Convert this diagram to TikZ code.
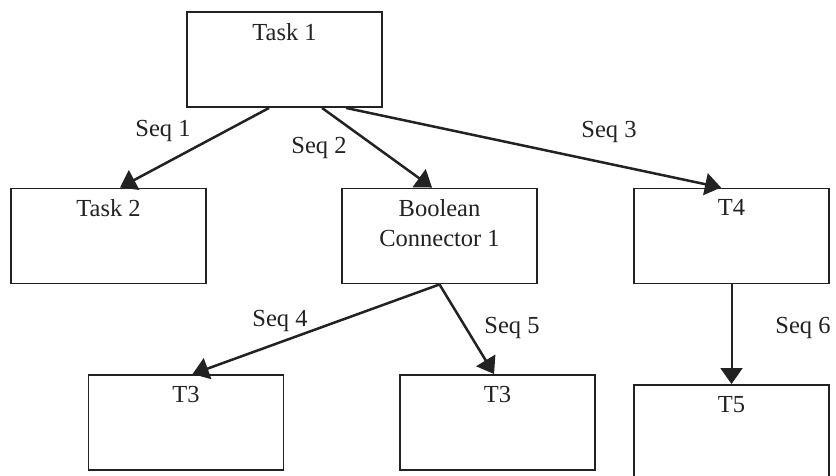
\documentclass[tikz,border=0pt]{standalone}
\usepackage{fontspec}
\setmainfont{Liberation Serif}
\usetikzlibrary{arrows.meta}
\definecolor{ink}{HTML}{222222}
\begin{document}
\begin{tikzpicture}[x=1pt,y=-1pt,
  every node/.style={font=\fontsize{24.5}{30}\selectfont, text=ink},
  box/.style={draw=ink, line width=1.9pt, rectangle, minimum width=195pt, minimum height=95pt, inner sep=0pt},
  boxtext/.style={anchor=north, inner sep=0pt, yshift=-12pt, align=center},
  seq/.style={draw=ink, line width=2.5pt, -{Triangle[length=16pt,width=22pt]}},
  lbl/.style={inner sep=0pt}
]
\useasboundingbox (0,0) rectangle (836,476);
\clip (0,0) rectangle (836,476);
\fill[white] (0,0) rectangle (836,476);

\node[box] (t1) at (284.5,59.5) {};
\node[box] (t2) at (108.5,236) {};
\node[box] (bc) at (439.5,236) {};
\node[box] (t4) at (731.5,236) {};
\node[box] (t3a) at (186,422.5) {};
\node[box] (t3b) at (497.5,422.5) {};
\node[box] (t5) at (731.5,432.5) {};

\node[boxtext] (t1l) at (t1.north) {Task 1};
\node[boxtext] (t2l) at (t2.north) {Task 2};
\node[boxtext] (bcl) at (bc.north) {Boolean\\Connector 1};
\node[boxtext] (t4l) at (t4.north) {T4};
\node[boxtext] (t3al) at (t3a.north) {T3};
\node[boxtext] (t3bl) at (t3b.north) {T3};
\node[boxtext] (t5l) at (t5.north) {T5};

\draw[seq] ([xshift=83pt]t1.south west) -- ([xshift=110pt]t2.north west);
\draw[seq] ([xshift=136pt]t1.south west) -- ([xshift=91pt]bc.north west);
\draw[seq] ([xshift=160pt]t1.south west) -- ([xshift=88pt]t4.north west);
\draw[seq] (bc.south) -- ([xshift=105pt]t3a.north west);
\draw[seq] (bc.south) -- ([xshift=95pt]t3b.north west);
\draw[seq, line width=2pt] (t4.south) -- (t5.north);

\node[lbl] (s1) at (163,131) {Seq 1};
\node[lbl] (s2) at (319,148) {Seq 2};
\node[lbl] (s3) at (609,132) {Seq 3};
\node[lbl] (s4) at (280,321) {Seq 4};
\node[lbl] (s5) at (512,328) {Seq 5};
\node[lbl] (s6) at (803,328) {Seq 6};
\end{tikzpicture}
\end{document}
